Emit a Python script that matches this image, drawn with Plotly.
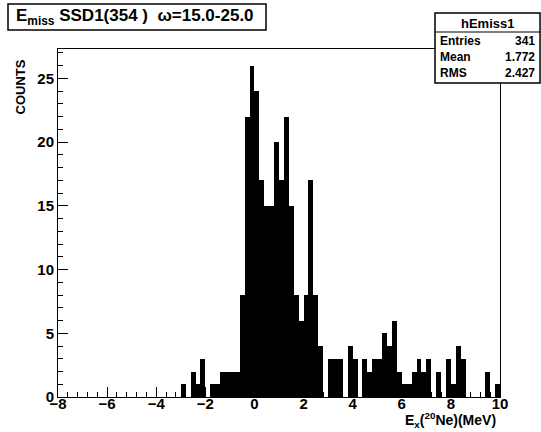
import numpy as np
import plotly.graph_objects as go

# Histogram hEmiss1: 90 bins from -8 to 10 MeV (bin width 0.2)
x_min = -8.0
x_max = 10.0
n_bins = 90
counts = [0]*25 + [
    1, 0, 2, 1, 3, 0, 1, 1, 2, 2,
    2, 2, 8, 22, 26, 24, 17, 15, 15, 20,
    17, 22, 15, 8, 6, 8, 17, 8, 4, 0,
    3, 3, 3, 0, 4, 3, 0, 3, 2, 3,
    3, 5, 4, 6, 2, 1, 1, 2, 3, 2,
    3, 0, 2, 0, 3, 1, 4, 3, 0, 0,
    0, 0, 2, 0, 1,
]
x_tick_vals = [-8, -6, -4, -2, 0, 2, 4, 6, 8, 10]
y_tick_vals = [0, 5, 10, 15, 20, 25]
title_text = "<b>E<sub>miss</sub> SSD1(354 )  ω=15.0-25.0</b>"
stats_name = "hEmiss1"
stats_labels = ["Entries", "Mean", "RMS"]
stats_values = ["341", "1.772", "2.427"]

edges = np.linspace(x_min, x_max, n_bins + 1)
centers = 0.5 * (edges[:-1] + edges[1:])
width = edges[1] - edges[0]

FONT = "Liberation Sans, Arial, Helvetica, sans-serif"

fig = go.Figure()
fig.add_trace(go.Bar(
    x=centers, y=counts, width=width,
    marker=dict(color="black", line=dict(width=0)),
    showlegend=False, hoverinfo="skip",
))

W, H = 541, 432
ml, mr, mt, mb = 58, 41, 49, 35
pw = W - ml - mr
ph = H - mt - mb

def px(xp):
    return (xp - ml) / pw

def py(yp):
    return (H - mb - yp) / ph

fig.update_layout(
    width=W, height=H,
    margin=dict(l=ml, r=mr, t=mt, b=mb, pad=0),
    paper_bgcolor="white", plot_bgcolor="white",
    bargap=0,
    font=dict(family=FONT, color="black"),
    xaxis=dict(
        range=[x_min, x_max], tickvals=x_tick_vals,
        ticks="inside", ticklen=10, tickwidth=1, tickcolor="black",
        minor=dict(dtick=0.4, tick0=-8, ticks="inside", ticklen=5, tickcolor="black", tickwidth=1),
        showline=True, linecolor="black", linewidth=1, mirror=True,
        showgrid=False, zeroline=False, automargin=False,
        ticklabelstandoff=-7,
        tickfont=dict(size=15, family=FONT, weight="bold"),
    ),
    yaxis=dict(
        range=[0, 27.3], tickvals=y_tick_vals,
        ticks="inside", ticklen=10, tickwidth=1, tickcolor="black",
        minor=dict(dtick=1, tick0=0, ticks="inside", ticklen=5, tickcolor="black", tickwidth=1),
        showline=True, linecolor="black", linewidth=1, mirror=True,
        showgrid=False, zeroline=False, automargin=False,
        tickfont=dict(size=15, family=FONT, weight="bold"),
    ),
)

# Title box
fig.add_shape(type="rect", xref="paper", yref="paper",
              x0=px(8), x1=px(266), y0=py(30), y1=py(4),
              line=dict(color="black", width=1.5), fillcolor="white")
fig.add_annotation(xref="paper", yref="paper", x=px(14), y=py(17),
                   xanchor="left", yanchor="middle", showarrow=False,
                   text=title_text, font=dict(size=17, family=FONT))

# Stats box
fig.add_shape(type="rect", xref="paper", yref="paper",
              x0=px(435), x1=px(540), y0=py(83), y1=py(13),
              line=dict(color="black", width=1.5), fillcolor="white")
fig.add_shape(type="line", xref="paper", yref="paper",
              x0=px(435), x1=px(540), y0=py(32), y1=py(32),
              line=dict(color="black", width=1))
fig.add_annotation(xref="paper", yref="paper", x=px(487), y=py(23),
                   xanchor="center", yanchor="middle", showarrow=False,
                   text="<b>" + stats_name + "</b>", font=dict(size=13, family=FONT))
for i, (lab, val) in enumerate(zip(stats_labels, stats_values)):
    yy = py(41 + i * 16)
    fig.add_annotation(xref="paper", yref="paper", x=px(438), y=yy,
                       xanchor="left", yanchor="middle", showarrow=False,
                       text="<b>" + lab + "</b>", font=dict(size=12, family=FONT))
    fig.add_annotation(xref="paper", yref="paper", x=px(537), y=yy,
                       xanchor="right", yanchor="middle", showarrow=False,
                       text="<b>" + val + "</b>", font=dict(size=12, family=FONT))

# Axis titles
fig.add_annotation(xref="paper", yref="paper", x=px(20), y=py(58),
                   xanchor="center", yanchor="top", showarrow=False, textangle=-90,
                   text="<b>COUNTS</b>", font=dict(size=13, family=FONT))
fig.add_annotation(xref="paper", yref="paper", x=px(498), y=py(432),
                   xanchor="right", yanchor="bottom", showarrow=False,
                   text="<b>E<sub>x</sub>(<sup>20</sup>Ne)(MeV)</b>", font=dict(size=14, family=FONT))

fig.write_html("out.html", config={"displayModeBar": False},
               post_script="document.body.style.margin='0';document.body.style.overflow='hidden';")
